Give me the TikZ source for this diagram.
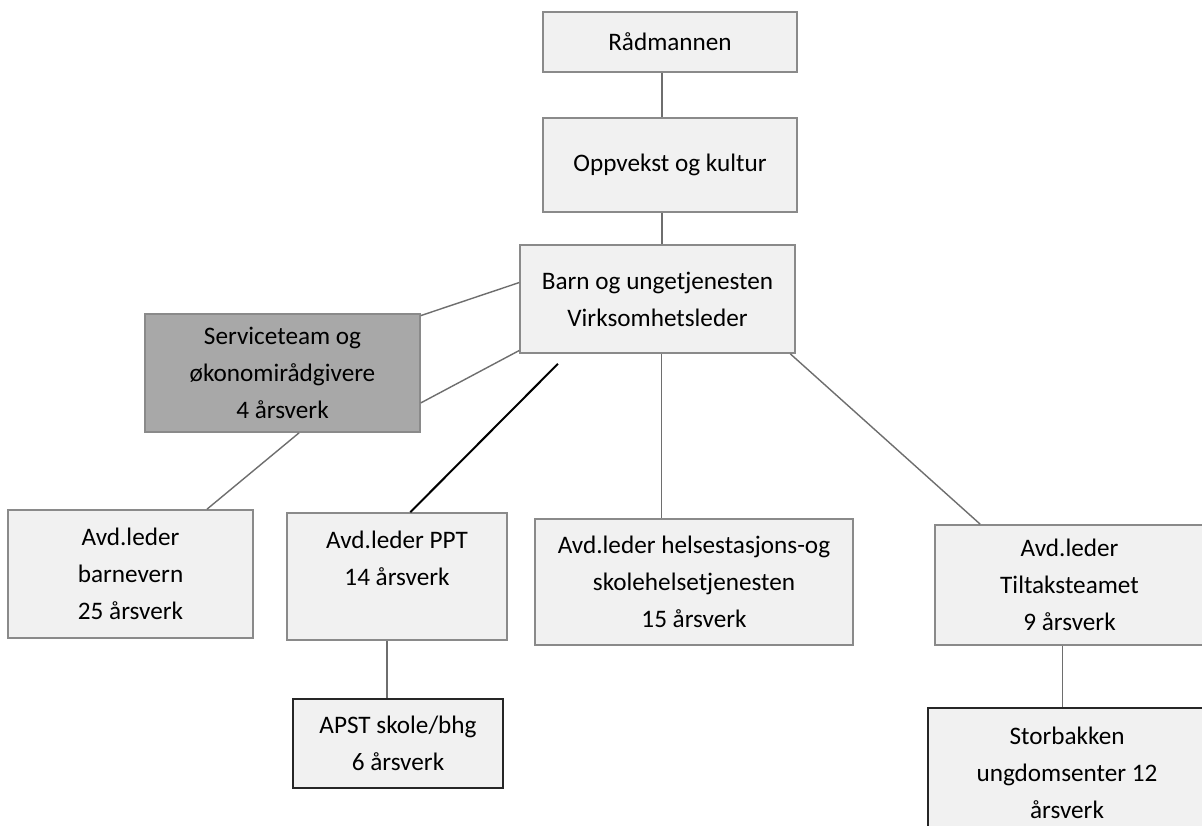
\documentclass[tikz,border=0pt]{standalone}
\usepackage{fontspec}
\setmainfont{Carlito}
\usetikzlibrary{calc}
\definecolor{boxfill}{HTML}{F1F1F1}
\definecolor{boxline}{HTML}{8A8A8A}
\definecolor{darkfill}{HTML}{A8A8A8}
\definecolor{conn}{HTML}{6E6E6E}
\tikzset{
  box/.style={draw=boxline, fill=boxfill, line width=0.8pt, align=center, inner sep=0pt,
    font=\fontsize{12.6pt}{18.5pt}\selectfont},
  darkbox/.style={box, fill=darkfill},
  strongbox/.style={box, draw=black!85},
  link/.style={draw=conn, line width=0.7pt},
  boldlink/.style={draw=black, line width=1pt}
}
\begin{document}
\begin{tikzpicture}[x=0.5pt,y=-0.5pt]
\useasboundingbox (0,0) rectangle (1202,825);
\clip (0,0) rectangle (1202,825);
\fill[white] (0,0) rectangle (1202,825);
\node[box, minimum width=127pt, minimum height=30pt] (rad) at (670,42) {Rådmannen};
\node[box, minimum width=127pt, minimum height=47pt] (opp) at (670,165) {Oppvekst og kultur};
\node[box, minimum width=137.5pt, minimum height=54pt] (barn) at (657.5,299) {Barn og ungetjenesten\\Virksomhetsleder};
\node[darkbox, minimum width=137.5pt, minimum height=59pt] (serv) at (282.5,373) {Serviceteam og\\økonomirådgivere\\4 årsverk};
\node[box, minimum width=122.5pt, minimum height=64pt] (bv) at (130.5,574) {Avd.leder\\barnevern\\25 årsverk};
\node[box, minimum width=110pt, minimum height=63.5pt] (ppt) at (397,576.5) {Avd.leder PPT\\14 årsverk\\\mbox{}};
\node[box, minimum width=159pt, minimum height=63pt] (hel) at (694,582) {Avd.leder helsestasjons-og\\skolehelsetjenesten\\15 årsverk};
\node[box, minimum width=134.5pt, minimum height=60pt] (til) at (1069.5,585) {Avd.leder\\Tiltaksteamet\\9 årsverk};
\node[strongbox, minimum width=105pt, minimum height=44.5pt] (apst) at (398,743.5) {APST skole/bhg\\6 årsverk};
\node[strongbox, minimum width=139pt, minimum height=65pt] (stb) at (1067,773) {Storbakken\\ungdomsenter 12\\årsverk};
% connectors
\coordinate (radb) at ($(rad.south)+(-4pt,0)$);
\draw[link] (radb) -- (radb |- opp.north);
\coordinate (oppb) at ($(opp.south)+(-4pt,0)$);
\draw[link] (oppb) -- (oppb |- barn.north);
\draw[link] ($(barn.north west)!0.35!(barn.south west)$) -- ($(serv.north east)!0.02!(serv.south east)$);
\draw[link] ($(barn.north west)!0.97!(barn.south west)$) -- ($(serv.north east)!0.75!(serv.south east)$);
\draw[link] ($(serv.south west)!0.56!(serv.south east)$) -- ($(bv.north west)!0.81!(bv.north east)$);
\coordinate (pptfrom) at ($(barn.south west)!0.14!(barn.south east)+(0,-5pt)$);
\draw[boldlink] (pptfrom) -- ($(ppt.north west)!0.56!(ppt.north east)$);
\coordinate (helb) at ($(barn.south)+(2pt,0)$);
\draw[link] (helb) -- (helb |- hel.north);
\draw[link] ($(barn.south west)!0.98!(barn.south east)$) -- ($(til.north west)!0.17!(til.north east)$);
\coordinate (pptb) at ($(ppt.south)+(-5pt,0)$);
\draw[link] (pptb) -- (pptb |- apst.north);
\coordinate (tilb) at ($(til.south)+(-3.5pt,0)$);
\draw[link] (tilb) -- (tilb |- stb.north);
\end{tikzpicture}
\end{document}
